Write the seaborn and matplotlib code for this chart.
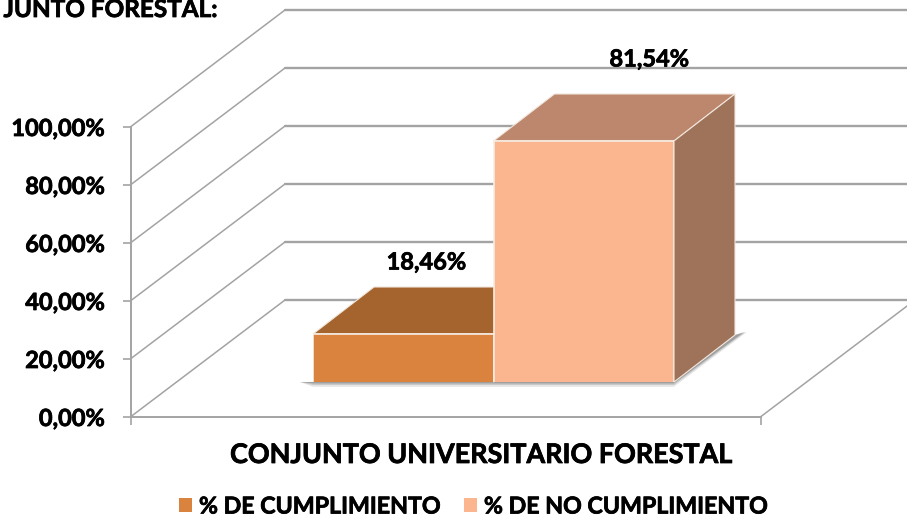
import matplotlib.pyplot as plt
import matplotlib.patheffects as pe
from matplotlib.patches import Polygon
import seaborn as sns
import pandas as pd

# Values
group = "CONJUNTO UNIVERSITARIO FORESTAL"
series = ["% DE CUMPLIMIENTO", "% DE NO CUMPLIMIENTO"]
values = [18.46, 81.54]
yticks = [0, 20, 40, 60, 80, 100]
heading = "JUNTO FORESTAL:"

front_colors = ["#DA833F", "#FBB690"]
top_colors = ["#A5642E", "#BC876C"]
side_colors = ["#8F5A2E", "#9F735A"]

W, H = 907, 519
sns.set_theme(style="white")
plt.rcParams["font.family"] = ["Lato", "DejaVu Sans"]
plt.rcParams["font.weight"] = "bold"

# Lato bold is a bit lighter than the original face
heavy = [pe.withStroke(linewidth=0.55, foreground="black")]


def axes_box(left, top, right, bottom):
    return [left / W, 1 - bottom / H, (right - left) / W, (bottom - top) / H]


fig = plt.figure(figsize=(W / 100, H / 100), dpi=100)

# Front plane of the fake 3D frame: x runs 0..1, y is the percentage
ax = fig.add_axes(axes_box(131, 126.5, 761, 416.5))
ax.set_xlim(0, 1)
ax.set_ylim(0, 100)
wall_dx = 154 / 630
wall_dy = 116.5 / 2.9
far_x = (W + 5 - 131) / 630
grey = "#A3A3A3"
for v in yticks:
    ax.plot([0, wall_dx], [v, v + wall_dy], color=grey, lw=1.1, clip_on=False)
    ax.plot([wall_dx, far_x], [v + wall_dy, v + wall_dy], color=grey, lw=1.7, clip_on=False)
ax.plot([1, 1 + wall_dx], [0, wall_dy], color=grey, lw=1.1, clip_on=False)
ax.set_yticks(yticks)
ax.set_yticklabels([f"{v:.2f}%".replace(".", ",") for v in yticks], fontsize=17, fontweight="bold", color="black",
                   path_effects=heavy)
ax.set_xticks([0, 1])
ax.set_xticklabels([])
ax.tick_params(axis="both", length=5.8, width=1.2, color=grey, pad=13, left=True, bottom=True)
for name in ["top", "right"]:
    ax.spines[name].set_visible(False)
for name in ["left", "bottom"]:
    ax.spines[name].set_color(grey)
    ax.spines[name].set_linewidth(1.4)
ax.patch.set_alpha(0)

fig.text(480 / W, 1 - 463 / H, group, fontsize=19.4, fontweight="bold", color="black", ha="center", va="baseline",
         path_effects=heavy)
fig.text(217 / W, 1 - 17 / H, heading, fontsize=17.5, fontweight="bold", color="black", ha="right", va="baseline",
         path_effects=heavy)

# Bars sit on the floor, so they get their own axes over the frame
bar_ax = fig.add_axes(axes_box(313, 84.5, 674, 382))
df = pd.DataFrame({"group": [group, group], "serie": series, "valor": values})
sns.barplot(data=df, x="group", y="valor", hue="serie", palette=front_colors, saturation=1,
            width=0.8, gap=0, edgecolor="#F7EDE4", linewidth=1.2, ax=bar_ax, zorder=5)
bar_ax.set_xlim(-0.4, 0.4)
floor = 2.77  # projected floor is not quite at zero
bar_ax.set_ylim(floor, 100)
bar_ax.axis("off")

px_x = 0.8 / 361
px_y = 1 / 3.06
dx = 61 * px_x
dy = 47 * px_y

# soft shadow under the boxes
first = bar_ax.containers[0][0]
last = bar_ax.containers[1][0]
x_left = first.get_x()
x_right = last.get_x() + last.get_width()
for grow, alpha in [(4, 0.15), (2.5, 0.2), (1.2, 0.35)]:
    bar_ax.add_patch(Polygon(
        [(x_left - 13 * px_x, floor), (x_left, floor - grow * 1.2 * px_y), (x_right, floor - grow * 1.2 * px_y),
         (x_right + dx + (8 + grow) * px_x, floor + dy + 3 * px_y), (x_right + dx, floor + dy), (x_right, floor)],
        closed=True, facecolor="#555555", edgecolor="none", alpha=alpha, clip_on=False, zorder=1))

# top and side faces, worked out from the bars seaborn drew
for i, cont in enumerate(bar_ax.containers):
    bar = cont[0]
    x0 = bar.get_x()
    x1 = x0 + bar.get_width()
    top = bar.get_height()
    bar_ax.add_patch(Polygon([(x0, top), (x1, top), (x1 + dx, top + dy), (x0 + dx, top + dy)], closed=True,
                             facecolor=top_colors[i], edgecolor="#F0E6DC", linewidth=0.8, clip_on=False, zorder=2 + i))
    bar_ax.add_patch(Polygon([(x1, floor), (x1, top), (x1 + dx, top + dy), (x1 + dx, floor + dy)], closed=True,
                             facecolor=side_colors[i], edgecolor="#F0E6DC", linewidth=0.8, clip_on=False, zorder=2 + i))

# value labels float up and to the right of each box
label_offsets = [(23, 72), (65.5, 82)]
for i, cont in enumerate(bar_ax.containers):
    bar = cont[0]
    bar_ax.annotate(f"{values[i]:.2f}%".replace(".", ","),
                    xy=(bar.get_x() + bar.get_width() / 2, bar.get_height()),
                    xytext=(label_offsets[i][0] * 0.72, label_offsets[i][1] * 0.72),
                    textcoords="offset points", ha="center", va="center",
                    fontsize=17, fontweight="bold", color="black", annotation_clip=False, zorder=8,
                    path_effects=heavy)

sns.move_legend(bar_ax, "center", bbox_to_anchor=(473 / W, 1 - 507 / H), bbox_transform=fig.transFigure,
                ncol=2, frameon=False, title=None, fontsize=16.7, handlelength=0.56, handleheight=0.56,
                handletextpad=0.32, columnspacing=1.0, borderpad=0)
leg = bar_ax.get_legend()
for txt in leg.get_texts():
    txt.set_fontweight("bold")
    txt.set_color("black")
    txt.set_path_effects(heavy)
for handle in leg.legend_handles:
    handle.set_edgecolor("none")

fig.savefig("out.png", dpi=100, facecolor="white")
plt.close(fig)
